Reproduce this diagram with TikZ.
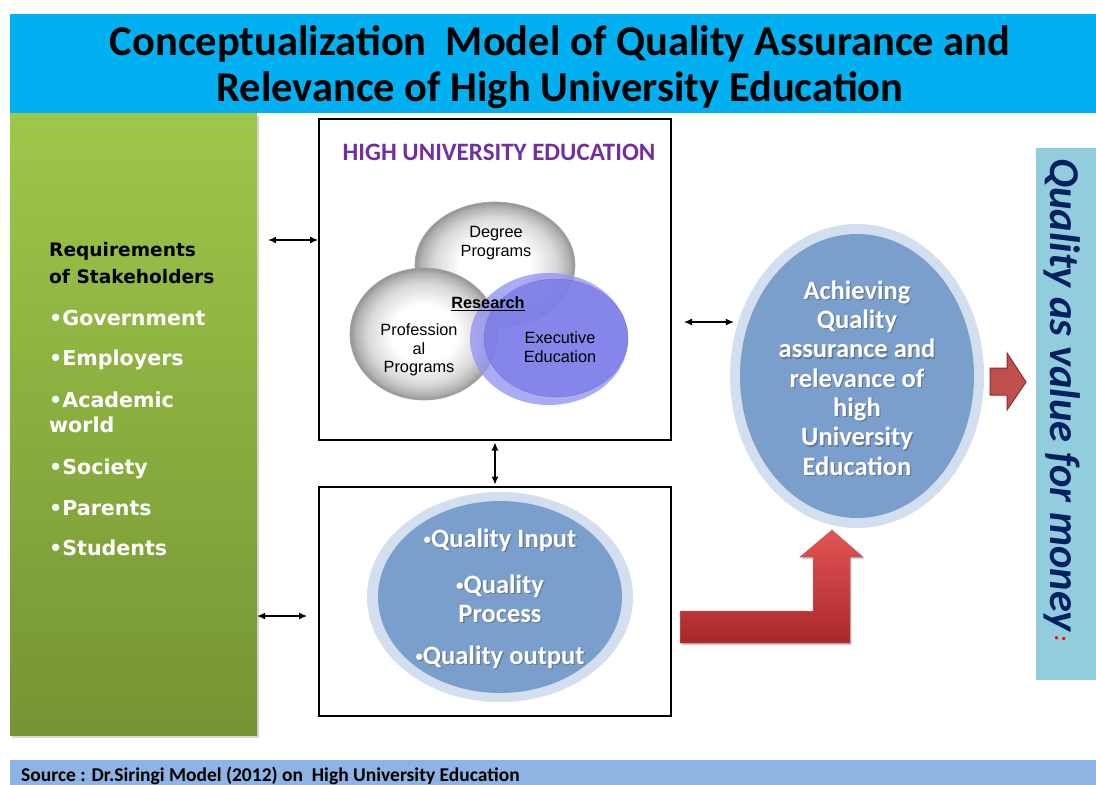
\documentclass[tikz,border=0pt]{standalone}
\usepackage{fontspec}
\setmainfont{Carlito}
\newfontfamily\verd{DejaVu Sans}
\newfontfamily\arialf{Liberation Sans}
\usetikzlibrary{shapes.geometric,shadows,calc,arrows.meta}

\definecolor{titleblue}{RGB}{0,176,240}
\definecolor{greentop}{RGB}{158,199,74}
\definecolor{greenbot}{RGB}{118,148,52}
\definecolor{hupurple}{RGB}{112,48,160}
\definecolor{ringblue}{RGB}{211,223,238}
\definecolor{coreblue}{RGB}{122,159,205}
\definecolor{exechalo}{RGB}{150,150,242}
\definecolor{execcore}{RGB}{118,118,230}
\definecolor{execline}{RGB}{100,100,205}
\definecolor{redtop}{RGB}{228,84,84}
\definecolor{redbot}{RGB}{170,40,40}
\definecolor{redblock}{RGB}{192,80,77}
\definecolor{reddark}{RGB}{140,45,45}
\definecolor{sidebar}{RGB}{146,205,221}
\definecolor{navy}{RGB}{0,32,96}
\definecolor{srcblue}{RGB}{141,180,226}

\pgfdeclareradialshading{ball}{\pgfpoint{0bp}{0bp}}{%
  color(0bp)=(white); color(11bp)=(white); color(19bp)=(black!15);
  color(23bp)=(black!30); color(25bp)=(black!42); color(50bp)=(black!42)}

% small bullet used in the white texts
\newcommand\smallbul{{\fontsize{15}{15}\selectfont\raisebox{.35ex}{\textbullet}}}

\tikzset{
  panel/.style={rectangle, inner sep=0pt},
  frame/.style={rectangle, draw=black, line width=2pt, inner sep=0pt, fill=white},
  ring/.style={ellipse, inner sep=0pt, fill=ringblue},
  core/.style={ellipse, inner sep=0pt, fill=coreblue},
  grayball/.style={ellipse, inner sep=0pt, shading=ball, draw=black!35, line width=.6pt},
  balltext/.style={font=\arialf\fontsize{16.3}{18.5}\selectfont, align=center, inner sep=0pt},
  greenhead/.style={font=\verd\bfseries\fontsize{18.6}{26}\selectfont, text=black, anchor=base west, inner sep=0pt},
  greenitem/.style={font=\verd\bfseries\fontsize{20.6}{25}\selectfont, text=white, anchor=base west, inner sep=0pt},
  wtxt/.style={font=\bfseries\fontsize{26.5}{29.3}\selectfont, text=white, align=center, inner sep=0pt},
  wshadow/.style={wtxt, text=black!70, opacity=.45, xshift=1.3pt, yshift=-1.3pt},
  dbl/.style={{Latex[length=8pt,width=7pt]}-{Latex[length=8pt,width=7pt]}, line width=1.1pt},
  redarrow/.style={top color=redtop, bottom color=redbot, draw=reddark!70, line width=.5pt,
    drop shadow={shadow xshift=1.5pt, shadow yshift=-2pt, opacity=.35}},
}

% white bold text with a soft dark shadow behind it
\newcommand\shadowtext[3]{%
  \node[wshadow] at (#2) {#3};
  \node[wtxt] (#1) at (#2) {#3};}

\begin{document}
\begin{tikzpicture}[x=1pt, y=-1pt]
\useasboundingbox (0,0) rectangle (1096,785);
\fill[white] (0,0) rectangle (1096,785);

% title band
\fill[titleblue] (10,14) rectangle (1096,113);
\node[font=\bfseries\fontsize{42.5}{45.5}\selectfont, align=center, inner sep=0pt] (title) at (560,67)
  {Conceptualization\ \ Model of Quality Assurance and\\Relevance of High University Education};

% stakeholder panel
\node[panel, minimum width=247pt, minimum height=622pt, top color=greentop, bottom color=greenbot,
  drop shadow={shadow xshift=2pt, shadow yshift=-3pt, opacity=.3}] (green) at (133.5,424) {};
\node[greenhead] (req1) at (49,256) {Requirements};
\node[greenhead] (req2) at (49,283) {of Stakeholders};
\node[greenitem] (g1) at (49,325) {\textbullet Government};
\node[greenitem] (g2) at (49,365) {\textbullet Employers};
\node[greenitem] (g3) at (49,407) {\textbullet Academic};
\node[greenitem] (g3b) at (49,432) {world};
\node[greenitem] (g4) at (49,474) {\textbullet Society};
\node[greenitem] (g5) at (49,515) {\textbullet Parents};
\node[greenitem] (g6) at (49,555) {\textbullet Students};

% higher education box with its three programme circles
\node[frame, minimum width=352pt, minimum height=321pt] (top) at (495,279.5) {};
\node[font=\bfseries\fontsize{25}{28}\selectfont, text=hupurple, inner sep=0pt] (hue) at (499,152)
  {HIGH UNIVERSITY EDUCATION};
\node[grayball, minimum width=160pt, minimum height=126pt] (deg) at (495,265) {};
\node[grayball, minimum width=148pt, minimum height=132pt] (prof) at (424,334) {};
\node[ellipse, inner sep=0pt, fill=exechalo, opacity=.8, minimum width=158pt, minimum height=132pt] (exec) at (549,339) {};
\node[ellipse, inner sep=0pt, fill=execcore, fill opacity=.7, draw=execline, draw opacity=.6,
  minimum width=144pt, minimum height=118pt] (execin) at (556,338) {};
\node[balltext] (degt) at (496,243) {Degree\\Programs};
\node[balltext] (proft) at (419,350) {Profession\\al\\Programs};
\node[balltext] (exect) at (560,347) {Executive\\Education};
\node[balltext, font=\arialf\bfseries\fontsize{16.3}{18}\selectfont] (res) at (488,304) {\underline{Research}};

% quality cycle box
\node[frame, minimum width=352pt, minimum height=229pt] (bot) at (495,601.5) {};
\node[ring, minimum width=266pt, minimum height=210pt] (cyc) at (500,597) {};
\node[core, minimum width=244pt, minimum height=192pt] (cycin) at (500,597) {};
\shadowtext{qin}{500,540}{\smallbul Quality Input}
\shadowtext{qpr}{500,598.5}{\smallbul Quality\\Process}
\shadowtext{qout}{500,657}{\smallbul Quality output}

% outcome ellipse
\node[ring, minimum width=254pt, minimum height=304pt] (ach) at (857,376) {};
\node[core, minimum width=234pt, minimum height=284pt] (achin) at (857,376) {};
\node[wshadow] at (857,378) {Achieving\\Quality\\assurance and\\relevance of\\high\\University\\Education};
\node[wtxt] (acht) at (857,378) {Achieving\\Quality\\assurance and\\relevance of\\high\\University\\Education};

% value-for-money bar
\fill[sidebar] (1036,148) rectangle (1096,680);
\node[rotate=-90, font=\bfseries\itshape\fontsize{42.5}{44}\selectfont, text=navy, inner sep=0pt] (vfm) at (1062,400)
  {Quality as value for money\textcolor{red}{\fontsize{22}{22}\selectfont\,\raisebox{.45ex}{:}}};

% block arrows
\path[fill=redblock, draw=reddark, line width=1pt]
  (990,368) -- (1007,368) -- (1007,353) -- (1026,382) -- (1007,410) -- (1007,395) -- (990,395) -- cycle;
\path[redarrow]
  (680,611) -- (813,611) -- (813,557) -- (800,557) -- (832,530) -- (863,557) -- (850,557)
  -- (850,643) -- (680,643) -- cycle;

% connectors
\draw[dbl, shorten <=11pt] (green.east |- 0,240) -- (top.west |- 0,240);
\draw[dbl, shorten >=11pt] (green.east |- 0,616) -- (bot.west |- 0,616);
\draw[dbl, shorten <=12pt, shorten >=-4pt] (top.east |- 0,322) -- (ach.west |- 0,322);
\draw[dbl, shorten <=1.5pt, shorten >=1.5pt] (top.south) -- (bot.north);

% source line
\fill[srcblue] (10,760) rectangle (1096,785);
\node[font=\bfseries\fontsize{19.5}{20}\selectfont, anchor=west, inner sep=0pt] (src) at (21,776)
  {Source : Dr.Siringi Model (2012) on\ \ High University Education};
\end{tikzpicture}
\end{document}
